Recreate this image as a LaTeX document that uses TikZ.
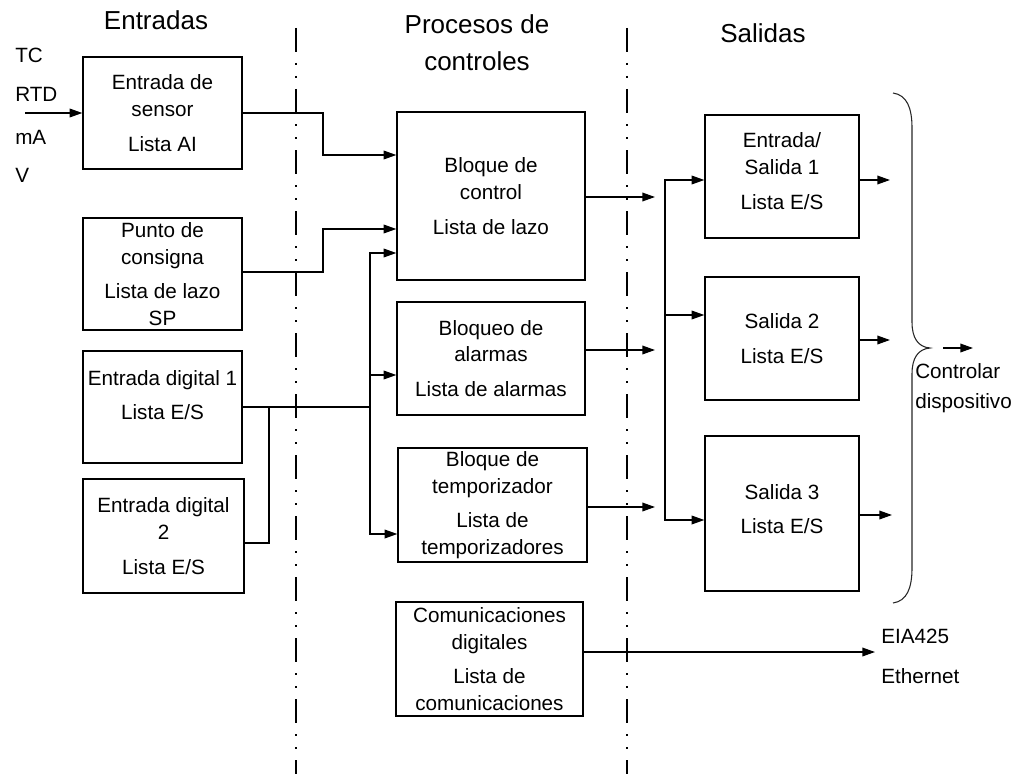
\documentclass[tikz,border=0pt]{standalone}
\usepackage{fontspec}
\setmainfont{Liberation Sans}
\usetikzlibrary{arrows.meta}
\begin{document}
\begin{tikzpicture}[x=0.75pt,y=-0.75pt,
  every node/.style={font=\fontsize{15.5}{20}\selectfont},
  bx/.style 2 args={draw, line width=1pt, inner sep=0pt, align=center,
     minimum width=#1*0.75pt, minimum height=#2*0.75pt},
  txt/.style={inner sep=0pt, align=center},
  lbl/.style={inner sep=0pt, anchor=west},
  title/.style={inner sep=0pt, align=center, font=\fontsize{19.5}{27.75}\selectfont},
  ln/.style={line width=1pt},
  arr/.style={line width=1pt, -{Triangle[length=9.5pt,width=6.5pt]}},
  sep/.style={line width=2.2pt, dash pattern=on 18pt off 8.25pt on 1.5pt off 8.25pt on 1.5pt off 8.25pt},
  brace/.style={line width=0.8pt, black!85}]
\useasboundingbox (0,0) rectangle (1031,774);

% separators
\draw[sep] (296,28) -- (296,774);
\draw[sep] (627,28) -- (627,774);

% titles
\node[title] (tEnt) at (156,20) {Entradas};
\node[title] (tProc) at (477,43) {Procesos de\\controles};
\node[title] (tSal) at (763,33) {Salidas};

% input signal labels
\node[lbl] (tc) at (15,55) {TC};
\node[lbl] (rtd) at (15,94) {RTD};
\node[lbl] (ma) at (15,137) {mA};
\node[lbl] (v) at (15,175) {V};

% boxes
\node[bx={159}{112}] (sens) at (162.5,113) {Entrada de\\sensor\\[6pt]Lista AI};
\node[bx={159}{112}] (sp) at (162.5,274) {Punto de\\consigna\\[6pt]Lista de lazo\\SP};
\node[bx={159}{112}] (din1) at (162.5,407) {};
\node[txt] (din1t) at (162.5,395) {Entrada digital 1\\[6pt]Lista E/S};
\node[bx={161}{114}] (din2) at (163.5,536) {Entrada digital\\2\\[6pt]Lista E/S};
\node[bx={188}{168}] (ctrl) at (491,196) {Bloque de\\control\\[6pt]Lista de lazo};
\node[bx={188}{113}] (alm) at (491,358.5) {Bloqueo de\\alarmas\\[6pt]Lista de alarmas};
\node[bx={189}{114}] (tmr) at (492.5,505) {Bloque de\\temporizador\\[6pt]Lista de\\temporizadores};
\node[bx={187}{114}] (comm) at (489.5,659) {Comunicaciones\\digitales\\[6pt]Lista de\\comunicaciones};
\node[bx={154}{123}] (out1) at (782,176.5) {};
\node[txt] (out1t) at (782,171) {Entrada/\\Salida 1\\[6pt]Lista E/S};
\node[bx={154}{123}] (out2) at (782,338.5) {Salida 2\\[6pt]Lista E/S};
\node[bx={154}{155}] (out3) at (782,513.5) {};
\node[txt] (out3t) at (782,509) {Salida 3\\[6pt]Lista E/S};

% inputs
\coordinate (inS) at (25,113);
\draw[arr] (inS) -- (sens.west);
\draw[arr] (sens.east) -| (323,155) -- (ctrl.west |- 0,155);
\draw[arr] (sp.east |- 0,272) -| (323,229) -- (ctrl.west |- 0,229);
\coordinate (bj) at (370,407);
\draw[ln] (din1.east) -- (bj);
\draw[ln] (din2.east |- 0,543) -| (269,407);
\draw[arr] (bj) |- (ctrl.west |- 0,253);
\draw[arr] (bj) |- (tmr.west |- 0,534);
\draw[arr] (bj |- 0,375) -- (alm.west |- 0,375);

% process outputs
\coordinate (o1) at (655,197);
\coordinate (o2) at (655,350);
\coordinate (o3) at (655,507);
\draw[arr] (ctrl.east |- o1) -- (o1);
\draw[arr] (alm.east |- o2) -- (o2);
\draw[arr] (tmr.east |- o3) -- (o3);

% output bus
\coordinate (ob) at (665,315);
\draw[arr] (ob) |- (out1.west |- 0,180);
\draw[arr] (ob) -- (out2.west |- ob);
\draw[arr] (ob) |- (out3.west |- 0,520);

% outputs to device
\coordinate (r1) at (890,180);
\coordinate (r2) at (890,340);
\coordinate (r3) at (892,515);
\draw[arr] (out1.east |- r1) -- (r1);
\draw[arr] (out2.east |- r2) -- (r2);
\draw[arr] (out3.east |- r3) -- (r3);

% brace
\draw[brace] (893,93) .. controls (907,95) and (912,108) .. (912,128) -- (912,322)
  .. controls (912,338) and (918,347) .. (930,348)
  .. controls (918,349) and (912,358) .. (912,374) -- (912,568)
  .. controls (912,588) and (907,601) .. (893,603);
\coordinate (ba) at (943,348);
\coordinate (bb) at (973,348);
\draw[arr] (ba) -- (bb);
\node[lbl, align=left, font=\fontsize{15.5}{22.5}\selectfont] (ctl) at (915,388) {Controlar\\dispositivo};

% communications
\coordinate (eth) at (875,652);
\draw[arr] (comm.east |- eth) -- (eth);
\node[lbl] (eia) at (881,636) {EIA425};
\node[lbl] (ethl) at (881,676) {Ethernet};
\end{tikzpicture}
\end{document}
